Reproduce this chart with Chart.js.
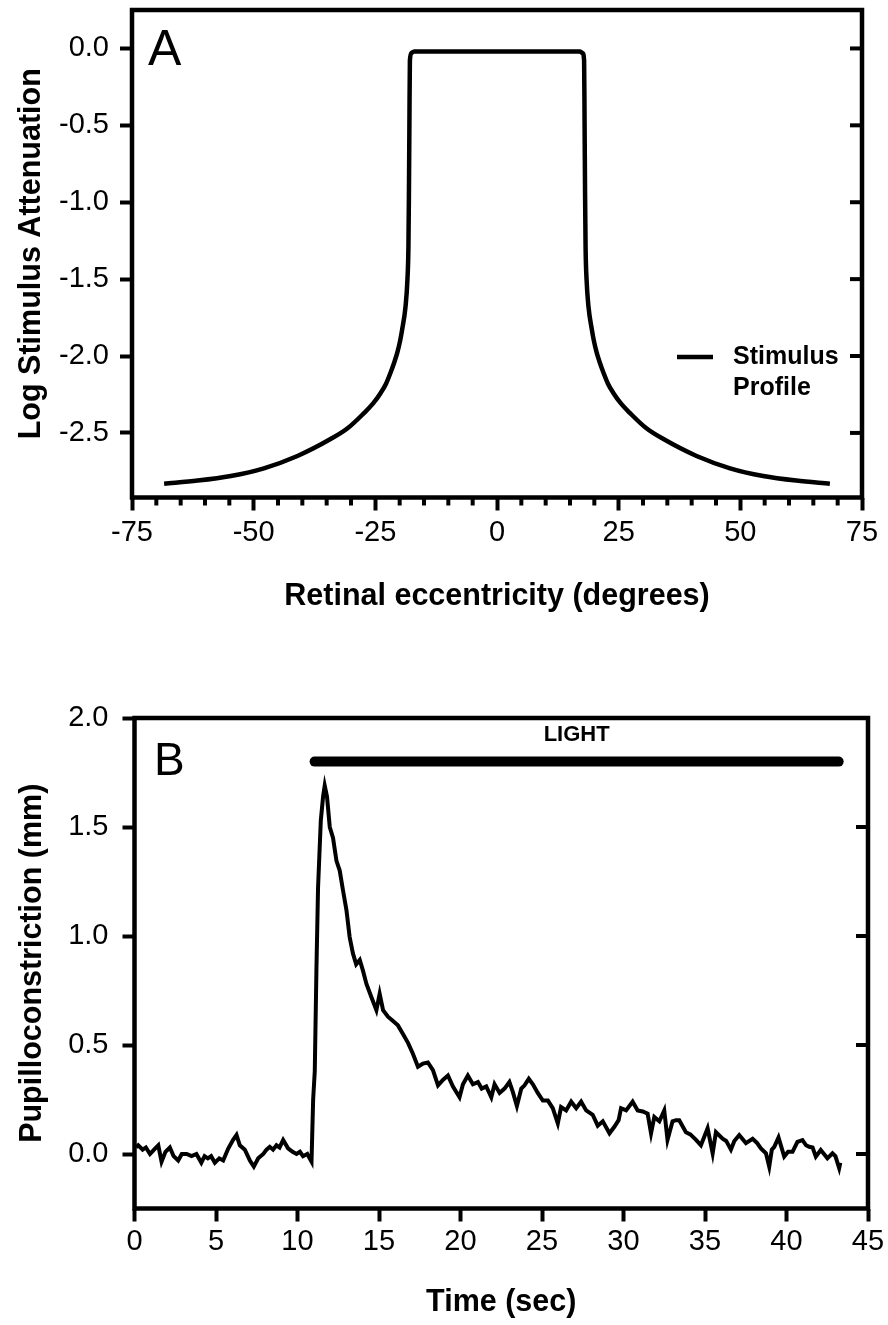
<!DOCTYPE html>
<html>
<head>
<meta charset="utf-8">
<title>Stimulus profile and pupil response</title>
<script src="https://cdn.jsdelivr.net/npm/chart.js@4.4.1/dist/chart.umd.min.js"></script>
<style>
  html, body { margin: 0; padding: 0; background: #fff; }
  #wrap { position: relative; width: 888px; height: 1325px; }
  .panel { position: absolute; left: 0; width: 888px; }
  #panelA { top: 0; height: 650px; }
  #panelB { top: 650px; height: 675px; }
</style>
</head>
<body>
<div id="wrap">
  <div class="panel" id="panelA"><canvas id="chartA" width="888" height="650"></canvas></div>
  <div class="panel" id="panelB"><canvas id="chartB" width="888" height="675"></canvas></div>
</div>
<script>
// ============================================================
// DATA - panel A (stimulus profile)
// ============================================================
const eccentricity = [-68.4, -61.5, -54.7, -47.9, -41.0, -34.2, -30.7, -27.3, -25.5, -23.9,
  -22.8, -21.9, -21.1, -20.5, -19.9, -19.5, -18.8, -18.4, -18.2, -18.1, -18.0, -17.9, -17.6,
  -17.0, -10.0, 0.0, 10.0,
  17.0, 17.6, 17.9, 18.0, 18.1, 18.2, 18.4, 18.8, 19.5, 19.9, 20.5, 21.1, 21.9, 22.8, 23.9,
  25.5, 27.3, 30.7, 34.2, 41.0, 47.9, 54.7, 61.5, 68.4];
const attenuation = [-2.83, -2.81, -2.78, -2.73, -2.65, -2.54, -2.47, -2.37, -2.31, -2.24,
  -2.18, -2.11, -2.04, -1.98, -1.90, -1.83, -1.68, -1.50, -1.29, -0.96, -0.50, -0.08, -0.03,
  -0.02, -0.02, -0.02, -0.02,
  -0.02, -0.03, -0.08, -0.50, -0.96, -1.29, -1.50, -1.68, -1.83, -1.90, -1.98, -2.04, -2.11,
  -2.18, -2.24, -2.31, -2.37, -2.47, -2.54, -2.65, -2.73, -2.78, -2.81, -2.83];
const xTicksA = [-75, -50, -25, 0, 25, 50, 75];
const yTicksA = [0, -0.5, -1.0, -1.5, -2.0, -2.5];
const legendA = ['Stimulus', 'Profile'];

// ============================================================
// DATA - panel B (pupil trace)
// ============================================================
const timeSec = [0.1, 0.23, 0.5, 0.7, 0.95, 1.2, 1.46, 1.66, 1.9, 2.17, 2.4, 2.68, 2.9, 3.2,
  3.5, 3.8, 4.1, 4.3, 4.5, 4.7, 4.93, 5.2, 5.44, 5.75, 6.05, 6.26, 6.46, 6.77, 7.08, 7.32,
  7.59, 7.9, 8.1, 8.3, 8.5, 8.71, 8.9, 9.12, 9.42, 9.7, 9.94, 10.15, 10.34, 10.6, 10.86,
  10.96, 11.06, 11.16, 11.26, 11.43, 11.57, 11.67, 11.81, 11.98, 12.18, 12.39, 12.59, 12.79,
  13.0, 13.2, 13.4, 13.6, 13.82, 14.02, 14.23, 14.53, 14.84, 15.04, 15.25, 15.55, 15.86,
  16.16, 16.47, 16.78, 17.08, 17.39, 17.7, 18.0, 18.31, 18.62, 18.92, 19.23, 19.53, 19.94,
  20.15, 20.45, 20.76, 21.07, 21.3, 21.58, 21.89, 22.09, 22.4, 22.7, 23.0, 23.21, 23.46,
  23.73, 23.93, 24.19, 24.44, 24.74, 25.05, 25.36, 25.66, 25.97, 26.17, 26.48, 26.79, 27.1,
  27.4, 27.71, 28.11, 28.42, 28.73, 29.14, 29.44, 29.7, 29.85, 30.16, 30.56, 30.87, 31.18,
  31.48, 31.69, 31.89, 32.2, 32.5, 32.7, 33.01, 33.22, 33.42, 33.83, 34.1, 34.45, 34.75,
  35.16, 35.47, 35.67, 36.08, 36.3, 36.59, 36.8, 37.1, 37.51, 37.92, 38.2, 38.43, 38.74,
  38.94, 39.1, 39.25, 39.51, 39.86, 40.1, 40.37, 40.67, 40.98, 41.2, 41.39, 41.6, 41.8,
  42.1, 42.3, 42.51, 42.82, 43.0, 43.23, 43.3];
const constriction = [0.03, 0.04, 0.02, 0.03, 0.0, 0.02, 0.04, -0.035, 0.01, 0.03, -0.01,
  -0.03, 0.0, 0.0, -0.01, 0.0, -0.04, -0.01, -0.02, -0.01, -0.04, -0.02, -0.03, 0.025, 0.065,
  0.087, 0.04, 0.02, -0.03, -0.058, -0.02, 0.0, 0.02, 0.033, 0.02, 0.04, 0.03, 0.064, 0.026,
  0.01, 0.0, 0.01, -0.01, 0.0, -0.035,
  0.25, 0.38, 0.84, 1.22, 1.53, 1.64, 1.69, 1.64, 1.50, 1.45, 1.345, 1.30, 1.21,
  1.12, 0.995, 0.92, 0.87, 0.89, 0.84, 0.78, 0.72, 0.66, 0.735, 0.66, 0.63, 0.61,
  0.59, 0.55, 0.51, 0.46, 0.40, 0.415, 0.42, 0.385, 0.315, 0.34, 0.36, 0.31, 0.26,
  0.32, 0.36, 0.32, 0.33, 0.30, 0.31, 0.26, 0.32, 0.28, 0.30, 0.33, 0.285, 0.22,
  0.30, 0.315, 0.345, 0.32, 0.28, 0.245, 0.245, 0.21, 0.14, 0.215, 0.20, 0.24, 0.21,
  0.24, 0.20, 0.18, 0.13, 0.15, 0.095, 0.125, 0.155, 0.21, 0.20, 0.24, 0.20, 0.195,
  0.185, 0.095, 0.17, 0.15, 0.20, 0.065, 0.15, 0.155, 0.155, 0.10, 0.09, 0.065, 0.04,
  0.118, 0.003, 0.10, 0.07, 0.06, 0.02, 0.06, 0.087, 0.05, 0.07, 0.05, 0.026, 0.003,
  -0.058, 0.02, 0.033, 0.076, -0.012, 0.01, 0.01, 0.056, 0.064, 0.04, 0.033, 0.03, -0.012,
  0.018, 0.0, -0.02, 0.003, -0.01, -0.065, -0.04];
const lightOn = [11.05, 43.2];
const lightLevel = 1.8;
const xTicksB = [0, 5, 10, 15, 20, 25, 30, 35, 40, 45];
const yTicksB = [0, 0.5, 1.0, 1.5, 2.0];

// ============================================================
// SHARED STYLE
// ============================================================
const FONT = "'Liberation Sans', Arial, Helvetica, sans-serif";
const tickFont = { family: FONT, size: 29 };
const titleFont = { family: FONT, size: 30.5, weight: 'bold' };

function pts(xs, ys) {
  return xs.map((x, i) => ({ x: x, y: ys[i] }));
}

function setTicks(values) {
  return s => { s.ticks = values.map(v => ({ value: v })); };
}

// frame box, inward ticks on the right, optional minor x ticks
function drawFrame(chart, rightTicks, minorTicks) {
  const { ctx, chartArea: a, scales } = chart;
  ctx.save();
  ctx.strokeStyle = '#000';
  ctx.lineWidth = 4.5;
  ctx.strokeRect(a.left, a.top, a.right - a.left, a.bottom - a.top);
  ctx.lineWidth = 4;
  rightTicks.forEach(v => {
    const y = scales.y.getPixelForValue(v);
    ctx.beginPath();
    ctx.moveTo(a.right - 12, y);
    ctx.lineTo(a.right, y);
    ctx.stroke();
  });
  minorTicks.forEach(v => {
    const x = scales.x.getPixelForValue(v);
    ctx.beginPath();
    ctx.moveTo(x, a.bottom);
    ctx.lineTo(x, a.bottom + 8);
    ctx.stroke();
  });
  ctx.restore();
}

function axisX(min, max, ticks, title, height, tickPad, titlePad) {
  return {
    type: 'linear', min: min, max: max,
    afterBuildTicks: setTicks(ticks),
    afterFit: s => { s.height = height; s.paddingLeft = 0; s.paddingRight = 0; },
    border: { display: false },
    grid: { drawOnChartArea: false, drawTicks: true, tickLength: 13, tickWidth: 4, tickColor: '#000' },
    ticks: { color: '#000', font: tickFont, padding: tickPad, maxRotation: 0, autoSkip: false,
             callback: v => String(v) },
    title: { display: true, text: title, color: '#000', font: titleFont,
             padding: { top: 0, bottom: titlePad } }
  };
}

function axisY(min, max, ticks, title, width, tickPad, titlePad) {
  return {
    type: 'linear', min: min, max: max,
    afterBuildTicks: setTicks(ticks),
    afterFit: s => { s.width = width; s.paddingTop = 0; s.paddingBottom = 0; },
    border: { display: false },
    grid: { drawOnChartArea: false, drawTicks: true, tickLength: 12, tickWidth: 4, tickColor: '#000' },
    ticks: { color: '#000', font: tickFont, padding: tickPad, autoSkip: false,
             callback: v => v.toFixed(1) },
    title: { display: true, text: title, color: '#000', font: titleFont,
             padding: { top: titlePad, bottom: 0 } }
  };
}

// ============================================================
// PANEL A
// ============================================================
const minorA = [];
for (let v = -70; v < 75; v += 5) {
  if (v % 25 !== 0) minorA.push(v);
}

new Chart(document.getElementById('chartA'), {
  type: 'line',
  data: {
    datasets: [{
      label: 'Stimulus Profile',
      data: pts(eccentricity, attenuation),
      borderColor: '#000',
      borderWidth: 4.5,
      pointRadius: 0,
      cubicInterpolationMode: 'monotone',
      fill: false
    }]
  },
  options: {
    responsive: false,
    animation: false,
    layout: { padding: { top: 10, right: 26, left: 0, bottom: 0 } },
    plugins: { legend: { display: false }, tooltip: { enabled: false } },
    scales: {
      x: axisX(-75, 75, xTicksA, 'Retinal eccentricity (degrees)', 152.5, 5, 35),
      y: axisY(-2.92, 0.25, yTicksA, 'Log Stimulus Attenuation', 132, 11, 13)
    }
  },
  plugins: [{
    id: 'extrasA',
    afterDraw(chart) {
      drawFrame(chart, yTicksA, minorA);
      const ctx = chart.ctx;
      ctx.save();
      ctx.fillStyle = '#000';
      ctx.font = '50px ' + FONT;
      ctx.textBaseline = 'alphabetic';
      ctx.fillText('A', 148, 65);
      // legend
      ctx.strokeStyle = '#000';
      ctx.lineWidth = 4.5;
      ctx.beginPath();
      ctx.moveTo(677, 357);
      ctx.lineTo(713, 357);
      ctx.stroke();
      ctx.font = 'bold 25px ' + FONT;
      ctx.textBaseline = 'middle';
      ctx.fillText(legendA[0], 733, 357);
      ctx.fillText(legendA[1], 733, 388);
      ctx.restore();
    }
  }]
});

// ============================================================
// PANEL B
// ============================================================
new Chart(document.getElementById('chartB'), {
  type: 'line',
  data: {
    datasets: [{
      label: 'Pupilloconstriction',
      data: pts(timeSec, constriction),
      borderColor: '#000',
      borderWidth: 4,
      pointRadius: 0,
      tension: 0,
      fill: false
    }, {
      label: 'LIGHT',
      data: pts(lightOn, [lightLevel, lightLevel]),
      borderColor: '#000',
      borderWidth: 10,
      borderCapStyle: 'round',
      pointRadius: 0,
      fill: false
    }]
  },
  options: {
    responsive: false,
    animation: false,
    layout: { padding: { top: 68, right: 20, left: 0, bottom: 0 } },
    plugins: { legend: { display: false }, tooltip: { enabled: false } },
    scales: {
      x: axisX(0, 45, xTicksB, 'Time (sec)', 116.5, 3, 4),
      y: axisY(-0.25, 2.0, yTicksB, 'Pupilloconstriction (mm)', 134.5, 14, 14)
    }
  },
  plugins: [{
    id: 'extrasB',
    afterDraw(chart) {
      drawFrame(chart, yTicksB.slice(0, 4), []);
      const ctx = chart.ctx;
      const xs = chart.scales.x, ys = chart.scales.y;
      ctx.save();
      ctx.fillStyle = '#000';
      ctx.font = '46px ' + FONT;
      ctx.textBaseline = 'alphabetic';
      ctx.fillText('B', 154, 125);
      ctx.font = 'bold 22px ' + FONT;
      ctx.textAlign = 'center';
      ctx.textBaseline = 'middle';
      ctx.fillText('LIGHT', xs.getPixelForValue((lightOn[0] + lightOn[1]) / 2), ys.getPixelForValue(lightLevel) - 27);
      ctx.restore();
    }
  }]
});
</script>
</body>
</html>
